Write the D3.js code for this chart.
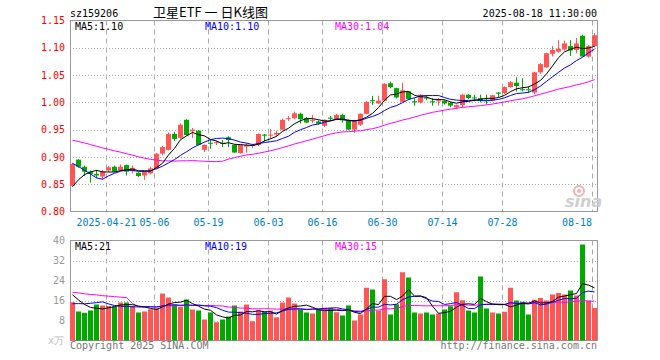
<!DOCTYPE html>
<html>
<head>
<meta charset="utf-8">
<script src="https://cdn.jsdelivr.net/npm/d3@7"></script>
<style>
  body { margin: 0; background: #fff; }
  text { font-family: "DejaVu Sans Mono", monospace; font-size: 10px; }
</style>
</head>
<body>
<script>
// ----- data -----
const dates = ["04-11","04-14","04-15","04-16","04-17","04-18","04-21","04-22","04-23","04-24","04-25","04-28","04-29","04-30",
  "05-06","05-07","05-08","05-09","05-12","05-13","05-14","05-15","05-16","05-19","05-20","05-21","05-22","05-23","05-26","05-27","05-28","05-29","05-30",
  "06-03","06-04","06-05","06-06","06-09","06-10","06-11","06-12","06-13","06-16","06-17","06-18","06-19","06-20","06-23","06-24","06-25","06-26","06-27","06-30",
  "07-01","07-02","07-03","07-04","07-07","07-08","07-09","07-10","07-11","07-14","07-15","07-16","07-17","07-18","07-21","07-22","07-23","07-24","07-25","07-28","07-29","07-30","07-31",
  "08-01","08-04","08-05","08-06","08-07","08-08","08-11","08-12","08-13","08-14","08-15","08-18"];

const open = [
  0.847,0.895,0.882,0.873,0.869,0.864,0.875,0.882,0.876,0.885,
  0.874,0.871,0.866,0.870,0.879,0.906,0.913,0.942,0.935,0.968,
  0.947,0.948,0.913,0.926,0.926,0.926,0.936,0.922,0.907,0.919,
  0.920,0.922,0.941,0.939,0.941,0.950,0.969,0.971,0.979,0.971,
  0.966,0.965,0.957,0.972,0.969,0.977,0.967,0.950,0.959,0.979,
  1.004,0.998,1.003,1.035,1.026,1.001,1.020,1.002,1.000,1.009,
  1.002,1.002,1.003,0.999,0.991,0.995,1.014,1.009,1.008,1.005,
  1.003,1.018,1.017,1.028,1.036,1.024,1.024,1.018,1.055,1.064,
  1.089,1.093,1.097,1.103,1.096,1.122,1.084,1.103];

const high = [
  0.889,0.896,0.884,0.875,0.876,0.876,0.883,0.884,0.886,0.886,
  0.884,0.872,0.874,0.882,0.907,0.920,0.945,0.946,0.961,0.969,
  0.953,0.949,0.923,0.931,0.930,0.931,0.938,0.923,0.923,0.925,
  0.924,0.943,0.942,0.951,0.948,0.970,0.975,0.983,0.981,0.973,
  0.977,0.967,0.969,0.975,0.979,0.979,0.969,0.968,0.980,1.002,
  1.012,1.012,1.035,1.038,1.027,1.036,1.021,1.008,1.015,1.013,
  1.008,1.008,1.005,1.001,0.996,1.015,1.015,1.014,1.014,1.014,
  1.014,1.019,1.029,1.039,1.046,1.044,1.029,1.056,1.072,1.091,
  1.103,1.114,1.113,1.114,1.118,1.124,1.105,1.127];

const low = [
  0.846,0.880,0.865,0.853,0.861,0.859,0.872,0.872,0.874,0.866,
  0.870,0.863,0.858,0.868,0.877,0.903,0.912,0.929,0.933,0.939,
  0.935,0.921,0.909,0.915,0.922,0.918,0.918,0.907,0.906,0.908,
  0.916,0.920,0.928,0.933,0.938,0.949,0.966,0.969,0.961,0.962,
  0.962,0.959,0.955,0.966,0.968,0.963,0.949,0.944,0.957,0.978,
  0.995,0.997,1.002,1.026,1.007,1.000,1.004,0.994,0.998,1.004,
  0.994,0.994,0.996,0.991,0.988,0.990,1.006,1.002,1.000,0.996,
  1.002,1.009,1.015,1.027,1.020,1.020,1.017,1.015,1.052,1.063,
  1.084,1.091,1.095,1.085,1.090,1.084,1.082,1.101];

const close = [
  0.887,0.882,0.873,0.869,0.866,0.873,0.881,0.873,0.882,0.873,
  0.880,0.865,0.873,0.879,0.906,0.918,0.942,0.933,0.959,0.940,
  0.950,0.922,0.922,0.925,0.927,0.925,0.931,0.908,0.922,0.922,
  0.922,0.942,0.939,0.941,0.944,0.968,0.971,0.980,0.969,0.963,
  0.968,0.961,0.968,0.970,0.977,0.967,0.950,0.967,0.979,1.001,
  1.002,1.003,1.034,1.028,1.009,1.022,1.006,1.000,1.014,1.007,
  1.001,1.004,0.998,0.994,0.995,1.014,1.008,1.008,1.003,1.004,
  1.013,1.016,1.028,1.037,1.030,1.023,1.023,1.055,1.070,1.090,
  1.096,1.098,1.108,1.095,1.108,1.084,1.103,1.123];

// volume, x万
const volume = [
  15.3,11.6,11.1,12.0,14.4,14.0,13.8,13.6,15.2,15.2,
  13.8,11.2,11.6,12.5,12.9,18.8,17.2,14.4,13.5,16.4,
  12.4,12.0,8.4,11.2,7.3,8.4,9.6,14.0,11.6,14.4,
  7.7,12.0,11.6,12.0,9.3,15.2,17.2,14.8,12.5,11.2,
  10.8,12.2,13.1,13.1,11.3,10.0,14.0,8.0,10.4,21.1,
  20.4,12.0,24.5,10.4,14.5,27.3,25.2,11.2,10.8,11.2,
  10.4,10.8,12.4,13.7,19.3,16.1,12.0,11.2,25.6,12.8,
  11.2,10.8,11.5,21.1,16.0,15.5,10.4,16.3,17.0,16.0,
  18.4,19.0,18.4,20.0,18.0,38.4,16.0,13.0];

// sessions before 04-11 (off screen), only needed for the moving averages
const priorClose = [
  0.945,0.952,0.960,0.958,0.965,0.962,0.955,0.950,0.958,0.962,
  0.955,0.948,0.945,0.950,0.952,0.948,0.945,0.942,0.940,0.938,
  0.940,0.940,0.940,0.935,0.900,0.818,0.826,0.845,0.851];
const priorVolume = [
  19,22,21,18,24,20,19,22,20,
  85,50,13,12,14,11,12,13,12,13,12,
  11,12,10,11.5,11,22,20,18,16.2];

const priceTicks = [0.80,0.85,0.90,0.95,1.00,1.05,1.10,1.15];
const volTicks = [8,16,24,32,40];
const gridDates = ["04-21","05-06","05-19","06-03","06-16","06-30","07-14","07-28","08-18"];

// ----- layout -----
const width = 660, height = 360;
const left = 70, right = 597;
const red = "#ff5555", green = "#00a800";

const svg = d3.select("body").append("svg")
    .attr("width", width)
    .attr("height", height);

const x = d3.scaleBand().domain(dates).range([left, left + dates.length * 6]);
const yPrice = d3.scaleLinear().domain([0.80, 1.15]).range([211.5, 20.5]);
const yVol = d3.scaleLinear().domain([0, 40]).range([340.5, 240.5]);

function movingAvg(prior, values, n){
    const all = prior.concat(values);
    const off = prior.length;
    return values.map((v, i) => d3.mean(all.slice(off + i - n + 1, off + i + 1)));
}

const colorOf = i => close[i] >= open[i] ? red : green;
const cx = d => Math.round(x(d)) + 2.5;

// ----- grid -----
function drawGrid(y, ticks, top, bottom){
    svg.append("g").selectAll("line")
        .data(ticks)
        .enter().append("line")
        .attr("x1", left).attr("x2", right)
        .attr("y1", d => Math.round(y(d)) + 0.5)
        .attr("y2", d => Math.round(y(d)) + 0.5)
        .attr("stroke", "#aaa")
        .attr("stroke-dasharray", "1,2");

    svg.append("g").selectAll("line")
        .data(gridDates)
        .enter().append("line")
        .attr("x1", d => Math.round(x(d)) + 0.5)
        .attr("x2", d => Math.round(x(d)) + 0.5)
        .attr("y1", top).attr("y2", bottom)
        .attr("stroke", "#aaa")
        .attr("stroke-dasharray", "5,4");

    svg.append("rect")
        .attr("x", left + 0.5).attr("y", top)
        .attr("width", right - left).attr("height", bottom - top)
        .attr("fill", "none")
        .attr("stroke", "#999");
}

drawGrid(yPrice, [0.85,0.90,0.95,1.00,1.05,1.10], 20.5, 211.5);
drawGrid(yVol, [8,16,24,32], 240.5, 340.5);

// ----- axes labels -----
const priceAxis = svg.append("g")
    .attr("transform", "translate(" + left + ",0)")
    .call(d3.axisLeft(yPrice).tickValues(priceTicks).tickFormat(d3.format(".2f")).tickSize(0).tickPadding(5));
priceAxis.select(".domain").remove();
priceAxis.selectAll("text")
    .attr("fill", "#f00")
    .style("font-family", "DejaVu Sans Mono, monospace")
    .style("font-size", "10px");

const volAxis = svg.append("g")
    .attr("transform", "translate(" + left + ",0)")
    .call(d3.axisLeft(yVol).tickValues(volTicks).tickSize(0).tickPadding(5));
volAxis.select(".domain").remove();
volAxis.selectAll("text")
    .attr("fill", "#999")
    .style("font-family", "DejaVu Sans Mono, monospace")
    .style("font-size", "10px");

svg.append("text")
    .attr("x", 64).attr("y", 344)
    .attr("text-anchor", "end")
    .attr("fill", "#bbb")
    .text("x万");

// date labels sit on the dashed lines; the last one is pulled inside the frame
svg.append("g").selectAll("text")
    .data(gridDates)
    .enter().append("text")
    .attr("x", (d, i) => Math.round(x(d)) + (i === gridDates.length - 1 ? 0 : 0.5))
    .attr("y", 225.5)
    .attr("text-anchor", (d, i) => i === gridDates.length - 1 ? "end" : "middle")
    .attr("fill", "#0080d0")
    .text((d, i) => i === 0 ? "2025-" + d : d);

// ----- candles -----
const candles = svg.append("g");
candles.selectAll("line")
    .data(dates)
    .enter().append("line")
    .attr("x1", d => cx(d)).attr("x2", d => cx(d))
    .attr("y1", (d, i) => yPrice(high[i]))
    .attr("y2", (d, i) => yPrice(low[i]))
    .attr("stroke", (d, i) => colorOf(i));

candles.selectAll("rect")
    .data(dates)
    .enter().append("rect")
    .attr("x", d => Math.round(x(d)))
    .attr("width", 5)
    .attr("y", (d, i) => yPrice(Math.max(open[i], close[i])))
    .attr("height", (d, i) => Math.max(1, Math.abs(yPrice(open[i]) - yPrice(close[i]))))
    .attr("fill", (d, i) => colorOf(i));

// ----- volume bars -----
svg.append("g").selectAll("rect")
    .data(dates)
    .enter().append("rect")
    .attr("x", d => Math.round(x(d)))
    .attr("width", 5)
    .attr("y", (d, i) => yVol(volume[i]))
    .attr("height", (d, i) => yVol(0) - yVol(volume[i]))
    .attr("fill", (d, i) => colorOf(i));

// ----- moving averages -----
const maColors = { 5: "#000", 10: "#0000ff", 30: "#ff00ff" };
const maPrice = {}, maVol = {};
[5, 10, 30].forEach(n => {
    maPrice[n] = movingAvg(priorClose, close, n);
    maVol[n] = movingAvg(priorVolume, volume, n);
});

function drawLine(values, y, color){
    const line = d3.line()
        .x((v, i) => cx(dates[i]))
        .y(v => y(v));
    svg.append("path")
        .datum(values)
        .attr("d", line)
        .attr("fill", "none")
        .attr("stroke", color)
        .attr("stroke-width", 1);
}

[30, 10, 5].forEach(n => {
    drawLine(maPrice[n], yPrice, maColors[n]);
    drawLine(maVol[n], yVol, maColors[n]);
});

// ----- MA labels -----
const last = dates.length - 1;
const labelX = { 5: 75, 10: 205, 30: 335 };
[5, 10, 30].forEach(n => {
    svg.append("text")
        .attr("x", labelX[n]).attr("y", 30)
        .attr("fill", maColors[n])
        .text("MA" + n + ":" + maPrice[n][last].toFixed(2));
    svg.append("text")
        .attr("x", labelX[n]).attr("y", 250)
        .attr("fill", maColors[n])
        .text("MA" + n + ":" + Math.floor(maVol[n][last]));
});

// ----- header / footer -----
svg.append("text")
    .attr("x", left).attr("y", 16.5)
    .text("sz159206");

svg.append("text")
    .attr("x", 210.5).attr("y", 16.5)
    .attr("text-anchor", "middle")
    .style("font-family", "Noto Sans CJK SC, sans-serif")
    .style("font-size", "13px")
    .text("卫星ETF 一 日K线图");

svg.append("text")
    .attr("x", right).attr("y", 16.5)
    .attr("text-anchor", "end")
    .text("2025-08-18 11:30:00");

svg.append("text")
    .attr("x", left).attr("y", 349)
    .attr("fill", "#777")
    .text("Copyright 2025 SINA.COM");

svg.append("text")
    .attr("x", right).attr("y", 349)
    .attr("text-anchor", "end")
    .attr("fill", "#777")
    .text("http://finance.sina.com.cn");

// sina watermark
svg.append("circle")
    .attr("cx", 579).attr("cy", 191).attr("r", 5)
    .attr("fill", "none").attr("stroke", "#f3b0b0").attr("stroke-width", 2);
svg.append("circle")
    .attr("cx", 579).attr("cy", 191).attr("r", 2)
    .attr("fill", "#f3b0b0");
svg.append("text")
    .attr("x", 565).attr("y", 207)
    .attr("fill", "#cfcfcf")
    .style("font-family", "DejaVu Sans, sans-serif")
    .style("font-size", "16px")
    .style("font-style", "italic")
    .style("font-weight", "bold")
    .text("sina");
</script>
</body>
</html>
